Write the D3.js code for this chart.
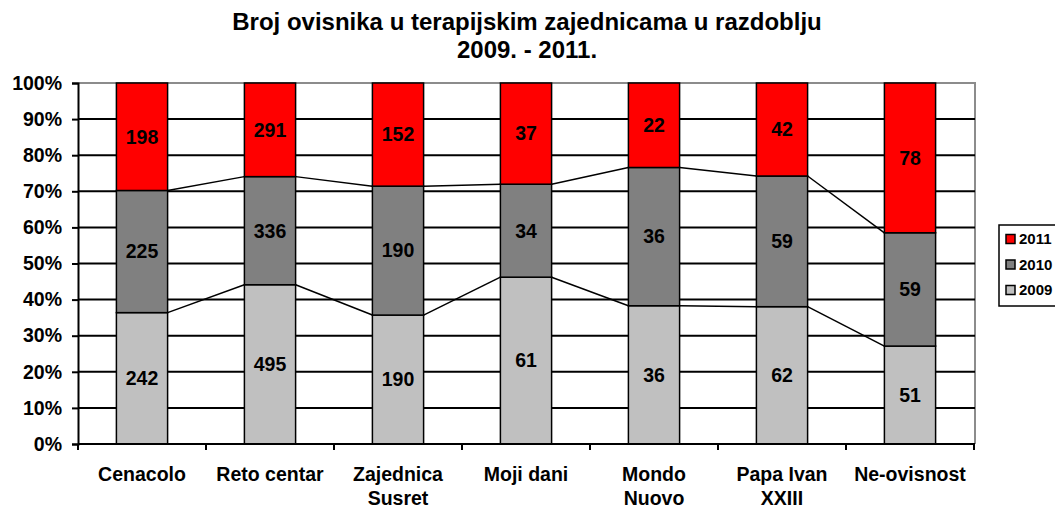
<!DOCTYPE html>
<html>
<head>
<meta charset="utf-8">
<script src="https://cdn.jsdelivr.net/npm/d3@7"></script>
<style>
  body { margin: 0; background: #fff; }
  text { font-family: "Liberation Sans", Arial, sans-serif; font-weight: bold; }
</style>
</head>
<body>
<div id="chart"></div>
<script>
// categories (two-line labels split on "|")
const categories = ["Cenacolo", "Reto centar", "Zajednica|Susret", "Moji dani", "Mondo|Nuovo", "Papa Ivan|XXIII", "Ne-ovisnost"];
const seriesNames = ["2009", "2010", "2011"];
const values2009 = [242, 495, 190, 61, 36, 62, 51];
const values2010 = [225, 336, 190, 34, 36, 59, 59];
const values2011 = [198, 291, 152, 37, 22, 42, 78];
const colors = ["#c0c0c0", "#808080", "#ff0000"];
const yTicks = [0, 0.1, 0.2, 0.3, 0.4, 0.5, 0.6, 0.7, 0.8, 0.9, 1];
const titleLines = ["Broj ovisnika u terapijskim zajednicama u razdoblju", "2009. - 2011."];

function drawChart(id) {
  const width = 1055, height = 509;
  const plot = { left: 78, right: 975, top: 83, bottom: 444 };

  // table for d3.stack
  const rows = categories.map((c, i) => ({
    cat: c, "2009": values2009[i], "2010": values2010[i], "2011": values2011[i]
  }));
  const stacked = d3.stack().keys(seriesNames).offset(d3.stackOffsetExpand)(rows);

  const svg = d3.select(`#${id}`).append("svg")
    .attr("width", width).attr("height", height);

  const x = d3.scaleBand().domain(categories).range([plot.left, plot.right - 1]).padding(0);
  const y = d3.scaleLinear().domain([0, 1]).range([plot.bottom, plot.top]);
  const barW = x.bandwidth() * 0.4;
  const barX = (c) => x(c) + (x.bandwidth() - barW) / 2;

  // title
  svg.append("g").selectAll("text").data(titleLines).join("text")
    .attr("x", 527).attr("y", (d, i) => 30 + i * 28)
    .attr("text-anchor", "middle").attr("font-size", 24)
    .text(d => d);

  // plot border (top + right gray)
  svg.append("path")
    .attr("d", `M${plot.left},${plot.top}H${plot.right}V${plot.bottom}`)
    .attr("fill", "none").attr("stroke", "#8c8c8c").attr("stroke-width", 2);

  // gridlines
  svg.append("g").selectAll("line").data(yTicks.filter(t => t > 0 && t < 1)).join("line")
    .attr("x1", plot.left).attr("x2", plot.right)
    .attr("y1", d => y(d)).attr("y2", d => y(d))
    .attr("stroke", "#000").attr("stroke-width", 2);

  // y axis
  const yAxis = svg.append("g")
    .attr("transform", `translate(${plot.left},0)`)
    .call(d3.axisLeft(y).tickValues(yTicks).tickFormat(d3.format(".0%")).tickSize(6).tickPadding(10));
  yAxis.select(".domain").attr("stroke", "#000").attr("stroke-width", 2);
  yAxis.selectAll(".tick line").attr("stroke", "#000").attr("stroke-width", 2);
  yAxis.selectAll(".tick text").attr("font-size", 19.5).attr("font-family", null).attr("fill", "#000");

  // bars
  stacked.forEach((layer, si) => {
    svg.append("g").selectAll("rect").data(layer).join("rect")
      .attr("x", d => barX(d.data.cat))
      .attr("y", d => y(d[1]))
      .attr("width", barW)
      .attr("height", d => y(d[0]) - y(d[1]))
      .attr("fill", colors[si])
      .attr("stroke", "#000").attr("stroke-width", 1.5);
  });

  // series lines between bars
  stacked.slice(0, 2).forEach((layer) => {
    svg.append("g").selectAll("line").data(layer.slice(0, -1)).join("line")
      .attr("x1", d => barX(d.data.cat) + barW)
      .attr("y1", d => y(d[1]))
      .attr("x2", (d, i) => barX(layer[i + 1].data.cat))
      .attr("y2", (d, i) => y(layer[i + 1][1]))
      .attr("stroke", "#000").attr("stroke-width", 1.5);
  });

  // value labels
  stacked.forEach((layer) => {
    svg.append("g").selectAll("text").data(layer).join("text")
      .attr("x", d => barX(d.data.cat) + barW / 2)
      .attr("y", d => (y(d[0]) + y(d[1])) / 2)
      .attr("dy", "0.35em")
      .attr("text-anchor", "middle").attr("font-size", 19.5)
      .text(d => d.data[layer.key]);
  });

  // x axis
  svg.append("line")
    .attr("x1", plot.left).attr("x2", plot.right)
    .attr("y1", plot.bottom).attr("y2", plot.bottom)
    .attr("stroke", "#000").attr("stroke-width", 2);
  svg.append("g").selectAll("line").data(categories.concat(["end"])).join("line")
    .attr("x1", (d, i) => plot.left + i * x.step()).attr("x2", (d, i) => plot.left + i * x.step())
    .attr("y1", plot.bottom).attr("y2", plot.bottom + 6)
    .attr("stroke", "#000").attr("stroke-width", 2);
  const catLabels = svg.append("g").selectAll("text").data(categories).join("text")
    .attr("x", d => x(d) + x.bandwidth() / 2)
    .attr("y", 481)
    .attr("text-anchor", "middle").attr("font-size", 19.5);
  catLabels.each(function (d) {
    d.split("|").forEach((part, i) => {
      d3.select(this).append("tspan")
        .attr("x", x(d) + x.bandwidth() / 2)
        .attr("dy", i === 0 ? 0 : 24)
        .text(part);
    });
  });

  // legend
  const legend = svg.append("g").attr("transform", "translate(999,225)");
  legend.append("rect").attr("width", 70).attr("height", 81)
    .attr("fill", "#fff").attr("stroke", "#000").attr("stroke-width", 1.5);
  const legendItems = seriesNames.slice().reverse();
  legendItems.forEach((name, i) => {
    const ci = seriesNames.indexOf(name);
    const cy = 14 + i * 25.5;
    legend.append("rect").attr("x", 7).attr("y", cy - 4.5).attr("width", 9).attr("height", 9)
      .attr("fill", colors[ci]).attr("stroke", "#000").attr("stroke-width", 1.5);
    legend.append("text").attr("x", 20).attr("y", cy).attr("dy", "0.35em")
      .attr("font-size", 15).text(name);
  });
}

document.addEventListener("DOMContentLoaded", function () {
  drawChart("chart");
});
</script>
</body>
</html>
